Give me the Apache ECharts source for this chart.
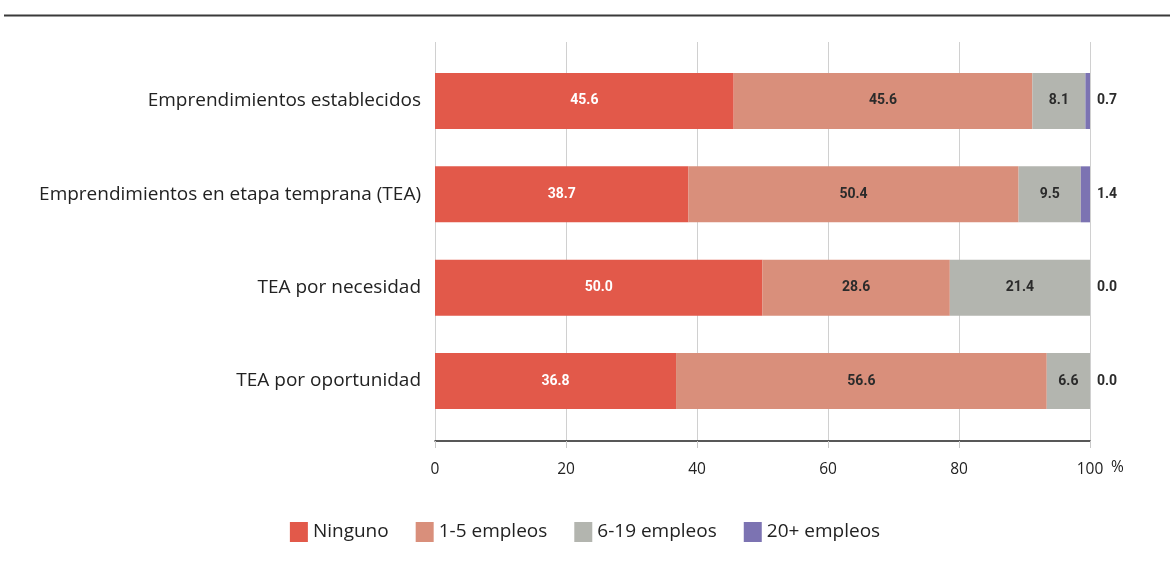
<!DOCTYPE html>
<html>
<head>
<meta charset="utf-8">
<script src="https://cdn.jsdelivr.net/npm/echarts@6/dist/echarts.min.js"></script>
<style>
  html, body { margin: 0; padding: 0; background: #fff; }
  #chart { width: 1170px; height: 570px; }
</style>
</head>
<body>
<div id="chart"></div>
<script>
// Categories (top to bottom) and shares by number of employees (%)
const categories = [
  'Emprendimientos establecidos',
  'Emprendimientos en etapa temprana (TEA)',
  'TEA por necesidad',
  'TEA por oportunidad'
];
const seriesNames = ['Ninguno', '1-5 empleos', '6-19 empleos', '20+ empleos'];
const ninguno = [45.6, 38.7, 50.0, 36.8];
const empleos1a5 = [45.6, 50.4, 28.6, 56.6];
const empleos6a19 = [8.1, 9.5, 21.4, 6.6];
const empleos20mas = [0.7, 1.4, 0.0, 0.0];
const xTicks = [0, 20, 40, 60, 80, 100];

const colors = ['#E2594A', '#D98F7B', '#B3B5AF', '#7C73B2'];
const labelFont = 'Roboto, "DejaVu Sans Condensed", sans-serif';
const textFont = '"Open Sans", "Noto Sans", sans-serif';

const values = [ninguno, empleos1a5, empleos6a19, empleos20mas];
const labelColors = ['#ffffff', '#2b2b2b', '#2b2b2b', '#2b2b2b'];

const series = seriesNames.map((name, i) => ({
  name: name,
  type: 'bar',
  stack: 'total',
  xAxisIndex: 0,
  yAxisIndex: 0,
  barWidth: 56,
  itemStyle: { color: colors[i] },
  data: values[i],
  label: {
    show: true,
    position: i === 3 ? 'right' : 'inside',
    distance: 7,
    color: labelColors[i],
    fontFamily: labelFont,
    fontWeight: 'bold',
    fontSize: 14,
    formatter: p => p.value.toFixed(1)
  }
}));

const chart = echarts.init(document.getElementById('chart'), null, { renderer: 'canvas' });
chart.setOption({
  animation: false,
  textStyle: { fontFamily: textFont },
  grid: [
    { left: 435, width: 655, top: 54.3, height: 373.4 },
    { left: 435, width: 655, top: 42, height: 399 }
  ],
  xAxis: [
    { gridIndex: 0, type: 'value', min: 0, max: 100, show: false },
    {
      gridIndex: 1, type: 'value', min: 0, max: 100, interval: 20,
      axisLine: { show: true, lineStyle: { color: '#222', width: 1.5 } },
      axisTick: { show: true, length: 7, lineStyle: { color: '#c8c8c8' } },
      splitLine: { show: true, lineStyle: { color: '#d0d0d0', width: 1 } },
      axisLabel: {
        margin: 21, fontSize: 15.5, color: '#222', fontFamily: textFont,
        formatter: v => xTicks.includes(v) ? String(v) : ''
      }
    }
  ],
  yAxis: [
    {
      gridIndex: 0, type: 'category', data: categories, inverse: true,
      axisLine: { show: false }, axisTick: { show: false },
      axisLabel: { margin: 14, fontSize: 19, color: '#222', fontFamily: textFont }
    },
    { gridIndex: 1, type: 'value', show: false }
  ],
  legend: {
    left: 'center',
    top: 517,
    itemWidth: 18,
    itemHeight: 20,
    itemGap: 27,
    icon: 'rect',
    textStyle: { fontSize: 19, color: '#222', fontFamily: textFont },
    data: seriesNames
  },
  graphic: [
    {
      type: 'line',
      shape: { x1: 4, y1: 15.5, x2: 1170, y2: 15.5 },
      style: { stroke: '#3a3a3a', lineWidth: 2 }
    },
    {
      type: 'text',
      left: 1111, top: 460,
      style: { text: '%', fontSize: 15.5, fill: '#222', fontFamily: textFont }
    }
  ],
  series: series
});
</script>
</body>
</html>
